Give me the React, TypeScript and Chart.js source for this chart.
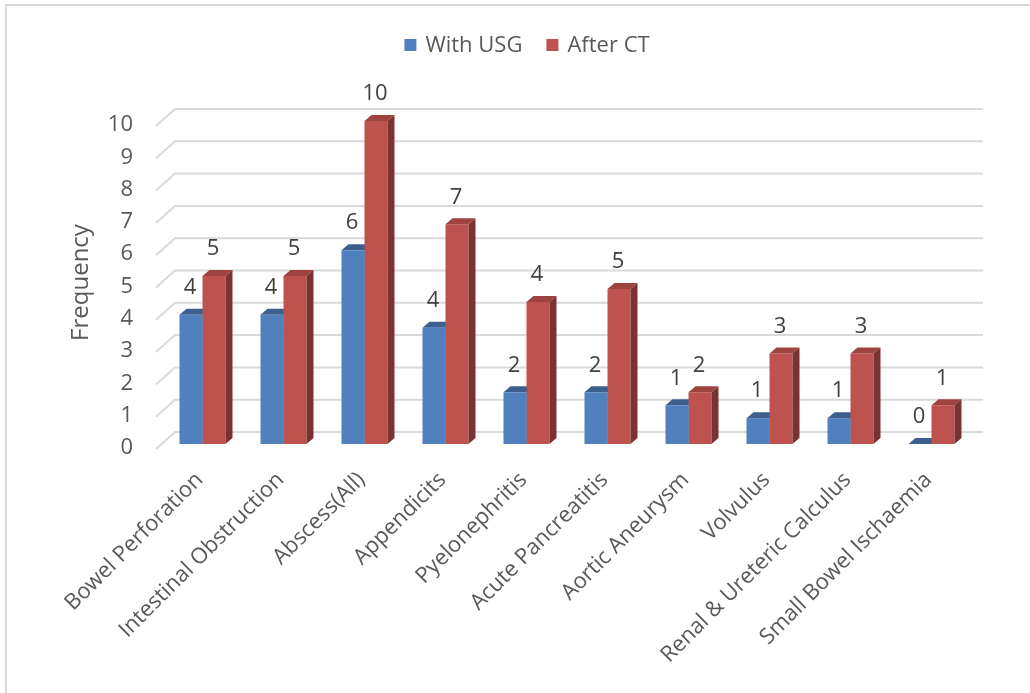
import React, { useEffect, useRef } from 'react';
import { Chart, registerables } from 'chart.js';

Chart.register(...registerables);

const categories = [
  'Bowel Perforation',
  'Intestinal Obstruction',
  'Abscess(All)',
  'Appendicits',
  'Pyelonephritis',
  'Acute Pancreatitis',
  'Aortic Aneurysm',
  'Volvulus',
  'Renal & Ureteric Calculus',
  'Small Bowel Ischaemia',
];
const withUsg = [4, 4, 6, 3.6, 1.6, 1.6, 1.2, 0.8, 0.8, 0];
const afterCt = [5.2, 5.2, 10, 6.8, 4.4, 4.8, 1.6, 2.8, 2.8, 1.2];
const seriesNames = ['With USG', 'After CT'];
const yMin = 0;
const yMax = 10;
const yStep = 1;

const FONT = '"Open Sans", sans-serif';
const frontColors = ['#5080bd', '#bd524e'];
const topColors = ['#3d5f90', '#9e433f'];
const sideColors = ['#30507e', '#7a3330'];
const DX = 7;
const DY = 6;

function drawFaces(chart: any, di: number) {
  const { ctx } = chart;
  const meta = chart.getDatasetMeta(di);
  meta.data.forEach((bar: any) => {
    const { x, y, base, width } = bar.getProps(['x', 'y', 'base', 'width'], true);
    const l = x - width / 2;
    const r = x + width / 2;
    ctx.fillStyle = topColors[di];
    ctx.beginPath();
    ctx.moveTo(l, y);
    ctx.lineTo(l + DX, y - DY);
    ctx.lineTo(r + DX, y - DY);
    ctx.lineTo(r, y);
    ctx.closePath();
    ctx.fill();
    ctx.fillStyle = sideColors[di];
    ctx.beginPath();
    ctx.moveTo(r, y);
    ctx.lineTo(r + DX, y - DY);
    ctx.lineTo(r + DX, base - DY);
    ctx.lineTo(r, base);
    ctx.closePath();
    ctx.fill();
  });
}

const bar3d = {
  id: 'bar3d',
  beforeDatasetsDraw(chart: any) {
    const { ctx, chartArea, scales } = chart;
    const y = scales.y;
    ctx.save();
    ctx.strokeStyle = '#d9d9d9';
    ctx.lineWidth = 2;
    y.ticks.forEach((t: any) => {
      const p = y.getPixelForValue(t.value);
      ctx.beginPath();
      ctx.moveTo(chartArea.left - 6, p + 5);
      ctx.lineTo(chartArea.left + 13, p - 12);
      ctx.lineTo(chartArea.right + 11, p - 12);
      ctx.stroke();
    });
    drawFaces(chart, 0);
    ctx.restore();
  },
  afterDatasetsDraw(chart: any) {
    const { ctx } = chart;
    ctx.save();
    drawFaces(chart, 1);
    ctx.font = `22px ${FONT}`;
    ctx.fillStyle = '#404040';
    ctx.textAlign = 'center';
    ctx.textBaseline = 'middle';
    chart.data.datasets.forEach((ds: any, di: number) => {
      const meta = chart.getDatasetMeta(di);
      meta.data.forEach((bar: any, i: number) => {
        const { x, y } = bar.getProps(['x', 'y'], true);
        ctx.fillText(String(Math.round(ds.data[i])), x - 1, y - 27);
      });
    });
    ctx.restore();
  },
  afterDraw(chart: any) {
    const { ctx } = chart;
    ctx.save();
    ctx.font = `22px ${FONT}`;
    ctx.textBaseline = 'middle';
    ctx.textAlign = 'left';
    const box = 12;
    const gap = 9;
    const itemGap = 24;
    const widths = seriesNames.map((n) => box + gap + ctx.measureText(n).width);
    const total = widths.reduce((a, b) => a + b, 0) + itemGap * (widths.length - 1);
    let x = chart.width / 2 + 12 - total / 2;
    const cy = 45;
    seriesNames.forEach((n, i) => {
      ctx.fillStyle = frontColors[i];
      ctx.fillRect(x, cy - box / 2, box, box);
      ctx.fillStyle = '#595959';
      ctx.fillText(n, x + box + gap, cy + 1);
      x += widths[i] + itemGap;
    });
    ctx.restore();
  },
};

export default function App() {
  const ref = useRef<HTMLCanvasElement>(null);
  useEffect(() => {
    Chart.defaults.font.family = FONT;
    const chart = new Chart(ref.current as HTMLCanvasElement, {
      type: 'bar',
      data: {
        labels: categories,
        datasets: [
          { label: seriesNames[0], data: withUsg, backgroundColor: frontColors[0], borderWidth: 0 },
          { label: seriesNames[1], data: afterCt, backgroundColor: frontColors[1], borderWidth: 0 },
        ],
      },
      options: {
        responsive: false,
        animation: false,
        devicePixelRatio: 1,
        categoryPercentage: 46 / 81,
        barPercentage: 1,
        layout: { padding: { top: 121, right: 58, bottom: 0, left: 0 } },
        plugins: {
          legend: { display: false },
          tooltip: { enabled: false },
        },
        scales: {
          x: {
            grid: { display: false },
            border: { display: false },
            ticks: {
              autoSkip: false,
              maxRotation: 45,
              minRotation: 45,
              padding: 15,
              labelOffset: -3,
              color: '#595959',
              font: { size: 22, family: FONT },
            },
            afterFit: (s: any) => {
              s.height = 249;
            },
          },
          y: {
            min: yMin,
            max: yMax,
            grid: { display: false, drawTicks: false },
            border: { display: false },
            ticks: {
              stepSize: yStep,
              padding: 29,
              labelOffset: 4,
              color: '#595959',
              font: { size: 22, family: FONT },
            },
            title: {
              display: true,
              text: 'Frequency',
              color: '#595959',
              font: { size: 24, family: FONT },
              padding: { top: 67, bottom: 0 },
            },
            afterFit: (s: any) => {
              s.width = 162;
            },
          },
        },
      },
      plugins: [bar3d],
    });
    return () => chart.destroy();
  }, []);
  return (
    <div style={{ position: 'fixed', left: 0, top: 0, width: 1030, height: 693, background: '#fff', overflow: 'hidden' }}>
      <div
        style={{
          position: 'absolute',
          left: 5,
          top: 4,
          width: 1100,
          height: 800,
          border: '2px solid #d9d9d9',
          boxSizing: 'border-box',
        }}
      />
      <canvas ref={ref} width={1030} height={693} style={{ position: 'absolute', left: 0, top: 0, width: 1030, height: 693 }} />
    </div>
  );
}
